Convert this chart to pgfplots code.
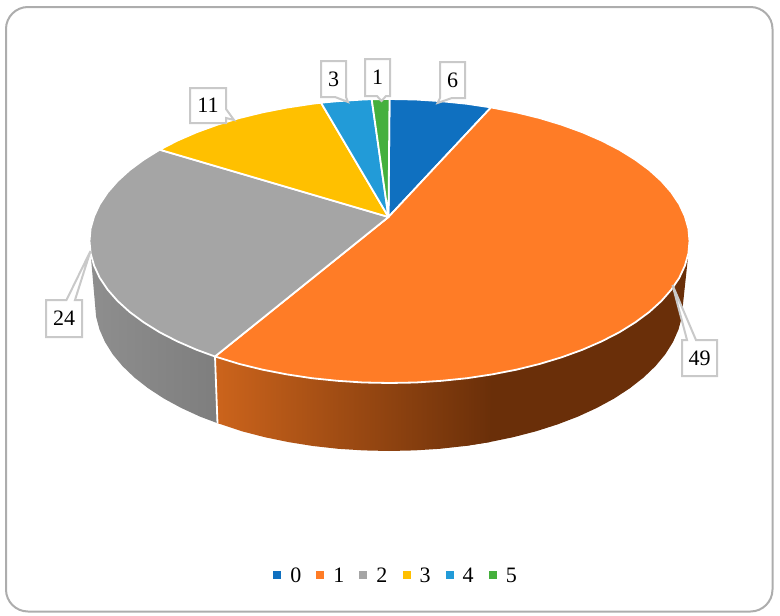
\documentclass[border=0pt]{standalone}
\usepackage{fontspec}
\setmainfont{Liberation Serif}
\usepackage{pgfplots}
\pgfplotsset{compat=1.18}

\definecolor{s0}{HTML}{0F70C0}
\definecolor{s1}{HTML}{FF7C26}
\definecolor{s2}{HTML}{A5A5A5}
\definecolor{s3}{HTML}{FFC000}
\definecolor{s4}{HTML}{229BD8}
\definecolor{s5}{HTML}{45B03D}
\definecolor{frame}{HTML}{ADADAD}
\definecolor{callout}{HTML}{C9C9C9}
\definecolor{darkside}{RGB}{106,47,9}
\definecolor{lightside}{RGB}{204,100,28}
\definecolor{greyleft}{RGB}{142,142,142}
\definecolor{greyright}{RGB}{126,126,126}

\newcommand{\lab}{\fontsize{22}{26}\selectfont}

\begin{document}
\begin{tikzpicture}
\begin{axis}[
    scale only axis,
    width=780pt, height=616pt,
    xmin=0, xmax=780, ymin=0, ymax=616,
    y dir=reverse,
    hide axis,
    legend columns=6,
    legend style={draw=none, fill=none, font=\lab, at={(0.5077,0.0645)}, anchor=center,
        inner sep=0pt, outer sep=0pt,
        /tikz/every even column/.append style={column sep=13.1pt}},
    legend image code/.code={\fill[#1,draw=none] (0pt,-3pt) rectangle (8pt,5pt);\path[draw=none,fill=none] (0pt,0pt) -- (15pt,0pt);},
    wedge/.style={draw=white, line width=1.8pt, line join=round},
    box/.style={draw=callout, fill=white, line width=2pt, line join=miter, forget plot},
]

% page box
\path (axis cs:0,0) rectangle (axis cs:780,616);

% rim, dark part
\addplot[fill=darkside, draw=none, forget plot] coordinates {
    (688.4,253.4)(684.9,265.7)(679.3,277.8)(671.4,289.6)(661.4,301)(649.3,312)(635.2,322.4)(619.3,332.3)
    (601.6,341.4)(582.3,349.8)(561.6,357.3)(539.5,364)(516.3,369.7)(492.1,374.4)(467.1,378.2)
    (465.1,446)(489.5,442.1)(513.2,437.2)(536,431.3)(557.6,424.4)(578,416.6)
    (596.9,407.9)(614.2,398.5)(629.8,388.3)(643.6,377.5)(655.5,366.1)(665.3,354.3)(673,342)(678.5,329.5)
    (681.9,316.8)(683,304)
} -- cycle;

% rim, orange shaded part
\addplot[draw=none, left color=lightside, right color=darkside, forget plot] coordinates {
    (215,356.5)(239.5,364)(262.7,369.7)(286.9,374.4)(311.9,378.2)(337.4,380.8)(363.3,382.5)(389.5,383)
    (415.7,382.5)(441.6,380.8)(467.1,378.2)(492.1,374.4)
    (489.5,442.1)(465.1,446)(440,448.8)(414.6,450.4)(389,451)(363.4,450.4)(338,448.8)(312.9,446)
    (288.5,442.1)(264.8,437.2)(242,431.3)(217,423)
} -- cycle;

% rim, grey shaded part
\addplot[draw=none, left color=greyleft, right color=greyright, forget plot] coordinates {
    (90.6,253.4)(94.1,265.7)(99.7,277.8)(107.6,289.6)(117.6,301)(129.7,312)(143.8,322.4)(159.7,332.3)
    (177.4,341.4)(196.7,349.8)(215,356.5)
    (217,423)(200,416.6)(181.1,407.9)(163.8,398.5)(148.2,388.3)(134.4,377.5)(122.5,366.1)(112.7,354.3)
    (105,342)(99.5,329.5)(96.1,316.8)(95,304)
} -- cycle;
\addplot[draw=white, line width=1.8pt, forget plot] coordinates {(215,356.5)(217.5,423.5)};

% top of the pie
\addplot[wedge, fill=s0] coordinates {
    (388.5,217)(389.5,99)(415.7,99.5)(441.6,101.2)(467.1,103.8)(491,107.4)
} -- cycle;
\addlegendentry{0}
\addplot[wedge, fill=s1] coordinates {
    (388.5,217)(491,107.4)(516.3,112.3)(539.5,118)(561.6,124.7)(582.3,132.2)(601.6,140.6)(619.3,149.7)
    (635.2,159.6)(649.3,170)(661.4,181)(671.4,192.4)(679.3,204.2)(684.9,216.3)(688.4,228.6)(689.5,241)
    (688.4,253.4)(684.9,265.7)(679.3,277.8)(671.4,289.6)(661.4,301)(649.3,312)(635.2,322.4)(619.3,332.3)
    (601.6,341.4)(582.3,349.8)(561.6,357.3)(539.5,364)(516.3,369.7)(492.1,374.4)(467.1,378.2)(441.6,380.8)
    (415.7,382.5)(389.5,383)(363.3,382.5)(337.4,380.8)(311.9,378.2)(286.9,374.4)(262.7,369.7)(239.5,364)(215,356.5)
} -- cycle;
\addlegendentry{1}
\addplot[wedge, fill=s2] coordinates {
    (388.5,217)(215,356.5)(196.7,349.8)(177.4,341.4)(159.7,332.3)(143.8,322.4)(129.7,312)(117.6,301)
    (107.6,289.6)(99.7,277.8)(94.1,265.7)(90.6,253.4)(89.5,241)(90.6,228.6)(94.1,216.3)(99.7,204.2)
    (107.6,192.4)(117.6,181)(129.7,170)(143.8,159.6)(159.7,149.7)
} -- cycle;
\addlegendentry{2}
\addplot[wedge, fill=s3] coordinates {
    (388.5,217)(159.7,149.7)(177.4,140.6)(196.7,132.2)(217.4,124.7)(239.5,118)(262.7,112.3)(286.9,107.6)
    (311.9,103.8)(321,102.7)
} -- cycle;
\addlegendentry{3}
\addplot[wedge, fill=s4] coordinates {
    (388.5,217)(321,102.7)(337.4,101.2)(363.3,99.5)(371.7,99.2)
} -- cycle;
\addlegendentry{4}
\addplot[wedge, fill=s5] coordinates {
    (388.5,217)(371.7,99.2)(389.5,99)
} -- cycle;
\addlegendentry{5}

% callouts
\addplot[box] coordinates {(190,88)(226,88)(226,109)(234,120)(226,118)(226,123)(190,123)} -- cycle;
\addplot[box] coordinates {(321,61)(346,61)(346,97)(348,102)(335,97)(321,97)} -- cycle;
\addplot[box] coordinates {(365,59)(390,59)(390,96)(386,96)(381.5,101)(377,96)(365,96)} -- cycle;
\addplot[box] coordinates {(440,62)(465,62)(465,98)(452,98)(437.5,103)(440,98)} -- cycle;
\addplot[box] coordinates {(46,300)(66.5,300)(90.5,251)(75,300)(82,300)(82,337)(46,337)} -- cycle;
\addplot[box] coordinates {(682,340)(687,340)(672.5,285)(696,340)(717,340)(717,376)(682,376)} -- cycle;

\node[font=\lab] at (axis cs:208,105.5) {11};
\node[font=\lab] at (axis cs:333.5,79) {3};
\node[font=\lab] at (axis cs:377.5,77.5) {1};
\node[font=\lab] at (axis cs:452.5,80) {6};
\node[font=\lab] at (axis cs:64,318.5) {24};
\node[font=\lab] at (axis cs:699.5,358) {49};

% outer frame
\draw[frame, line width=2pt, rounded corners=22pt] (axis cs:6,7) rectangle (axis cs:772.5,611.5);

\end{axis}
\end{tikzpicture}
\end{document}
